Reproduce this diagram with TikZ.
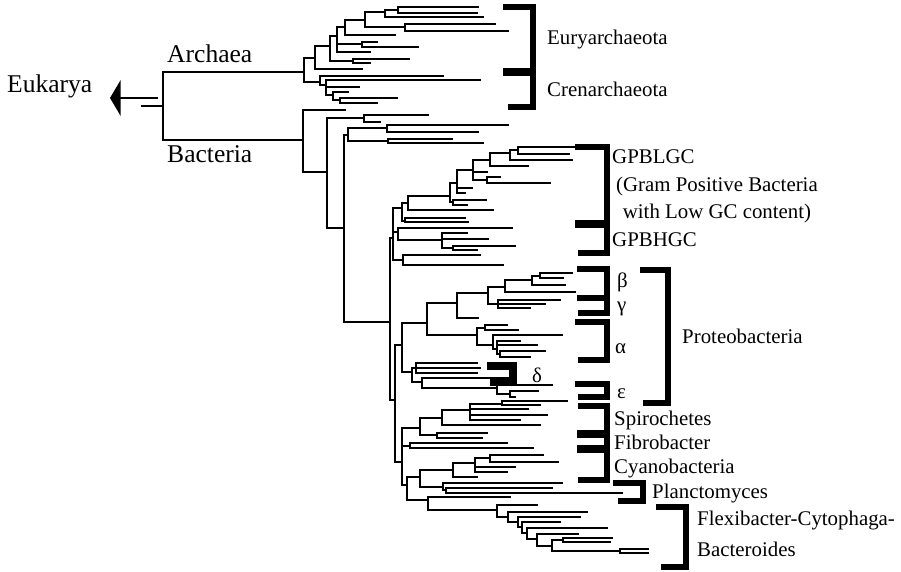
\documentclass[tikz,border=0pt]{standalone}
\usepackage{fontspec}
\setmainfont{Liberation Serif}
\usetikzlibrary{arrows.meta}

\newcommand{\limb}[2]{\draw[branch] (#1) |- (#2);}
\newcommand{\twig}[3]{\draw[branch] (#1) |- (#3,#2);}

\begin{document}
\begin{tikzpicture}[
        x=0.03cm, y=-0.03cm,
        branch/.style={
            line width=2.45pt,
            line cap=rect
        },
        bracket/.style={
            line width=4.8pt
        },
        divider/.style={
            line width=7pt
        },
        taxon/.style={
            anchor=base west,
            inner sep=0pt,
            font=\fontsize{17.8}{20}\selectfont
        },
        kingdom/.style={
            anchor=base west,
            inner sep=0pt,
            font=\fontsize{21.8}{24}\selectfont
        },
        eukarrow/.style={
            -{Triangle[length=9pt, width=30pt]},
            line width=2.45pt
        }
    ]
        \useasboundingbox (0,0) rectangle (901,572);

        \node (eukarya) [kingdom] at (7,93) {Eukarya};
        \node (archaea) [kingdom] at (167,63) {Archaea};
        \node (bacteria) [kingdom] at (167,163) {Bacteria};

        \coordinate (root) at (163,106);
        \coordinate (rootstub) at (142,106);
        \coordinate (eukstub) at (158,98);
        \coordinate (euktip) at (110,98);
        \coordinate (arch) at (304,72);
        \coordinate (bact) at (303,140);
        \draw [branch] (root) -- (rootstub);
        \draw [eukarrow] (eukstub) -- (euktip);
        \limb{root}{arch} \limb{root}{bact}

        \coordinate (eury) at (315,58);
        \coordinate (cren) at (320,82);
        \coordinate (e1) at (330,46);
        \coordinate (e2) at (337,36);
        \coordinate (e3) at (353,61);
        \coordinate (e4) at (345,27);
        \coordinate (e5) at (362,44);
        \coordinate (e6) at (365,20);
        \coordinate (e7) at (385,12);
        \coordinate (e8) at (405,27);
        \coordinate (e9) at (398,10);
        \limb{arch}{eury} \limb{arch}{cren}
        \limb{eury}{e1} \twig{eury}{69}{362}
        \limb{e1}{e2} \limb{e1}{e3}
        \limb{e2}{e4} \limb{e2}{e5} \twig{e2}{52}{370}
        \limb{e4}{e6} \twig{e4}{35}{395}
        \limb{e6}{e7} \limb{e6}{e8}
        \limb{e7}{e9} \twig{e7}{17}{483}
        \twig{e9}{7}{478} \twig{e9}{13}{477}
        \twig{e8}{24}{495} \twig{e8}{31}{508}
        \twig{e5}{42}{377} \twig{e5}{47}{418}
        \twig{e3}{59}{409} \twig{e3}{63}{370}

        \coordinate (c1) at (326,85);
        \coordinate (c2) at (333,95);
        \coordinate (c3) at (340,100);
        \twig{cren}{76}{443} \limb{cren}{c1}
        \twig{c1}{80}{480} \twig{c1}{87}{359} \limb{c1}{c2}
        \twig{c2}{92}{348} \limb{c2}{c3}
        \twig{c3}{98}{397} \twig{c3}{103}{377}

        \coordinate (b1) at (327,172);
        \coordinate (b2) at (364,118);
        \coordinate (b3) at (344,228);
        \coordinate (b4) at (348,135);
        \coordinate (b5) at (390,322);
        \coordinate (b6) at (387,128);
        \coordinate (b7) at (388,141);
        \twig{bact}{110}{345} \limb{bact}{b1}
        \limb{b1}{b2} \limb{b1}{b3}
        \twig{b2}{115}{428} \twig{b2}{122}{380}
        \limb{b3}{b4} \limb{b3}{b5}
        \limb{b4}{b6} \limb{b4}{b7}
        \twig{b6}{125}{508} \twig{b6}{132}{478}
        \twig{b7}{139}{452} \twig{b7}{143}{483}

        \coordinate (g0) at (393,238);
        \coordinate (g1) at (402,208);
        \coordinate (g2) at (398,232);
        \coordinate (g3) at (403,260);
        \coordinate (g4) at (408,203);
        \coordinate (g5) at (405,221);
        \coordinate (g6) at (450,196);
        \coordinate (g6a) at (453,202);
        \coordinate (g7) at (457,183);
        \coordinate (g8) at (473,170);
        \coordinate (g9) at (490,160);
        \coordinate (g10) at (487,180);
        \coordinate (g11) at (510,153);
        \coordinate (g12) at (518,150);
        \coordinate (g13) at (442,240);
        \coordinate (g14) at (453,248);
        \coordinate (p0) at (395,400);
        \limb{b5}{g0} \limb{b5}{p0}
        \limb{g0}{g1} \limb{g0}{g2} \limb{g0}{g3}
        \limb{g1}{g4} \limb{g1}{g5}
        \limb{g4}{g6} \twig{g4}{210}{493}
        \twig{g5}{218}{465} \twig{g5}{222}{468}
        \limb{g6}{g7} \limb{g6}{g6a}
        \twig{g6a}{200}{486} \twig{g6a}{205}{467}
        \limb{g7}{g8} \twig{g7}{188}{472} \twig{g7}{193}{465}
        \limb{g8}{g9} \twig{g8}{172}{487} \limb{g8}{g10}
        \twig{g10}{177}{500} \twig{g10}{183}{550}
        \limb{g9}{g11} \twig{g9}{166}{528}
        \limb{g11}{g12} \twig{g11}{160}{572}
        \twig{g12}{147}{575} \twig{g12}{154}{569}
        \twig{g2}{228}{512} \limb{g2}{g13}
        \twig{g13}{233}{467} \twig{g13}{239}{488} \limb{g13}{g14}
        \twig{g14}{246}{515} \twig{g14}{250}{477}
        \twig{g3}{255}{480} \twig{g3}{265}{503}

        \coordinate (pr) at (402,345);
        \coordinate (l0) at (402,462);
        \coordinate (pa) at (427,323);
        \coordinate (pd) at (412,372);
        \coordinate (pb) at (457,303);
        \coordinate (pal) at (477,335);
        \coordinate (pc) at (488,293);
        \coordinate (pc1) at (505,287);
        \coordinate (pc2) at (532,280);
        \coordinate (pc3) at (540,276);
        \coordinate (pg) at (498,304);
        \coordinate (na1) at (485,328);
        \coordinate (na2) at (493,345);
        \coordinate (na3) at (497,349);
        \coordinate (na4) at (500,354);
        \coordinate (pd1) at (416,368);
        \coordinate (pd2) at (422,382);
        \coordinate (pe) at (497,388);
        \coordinate (pe1) at (510,394);
        \limb{p0}{pr} \limb{p0}{l0}
        \limb{pr}{pa} \limb{pr}{pd}
        \limb{pa}{pb} \limb{pa}{pal}
        \limb{pb}{pc} \twig{pb}{318}{478}
        \limb{pc}{pc1} \limb{pc}{pg}
        \limb{pc1}{pc2} \twig{pc1}{292}{575}
        \limb{pc2}{pc3} \twig{pc2}{285}{565}
        \twig{pc3}{273}{572} \twig{pc3}{278}{563}
        \twig{pg}{300}{560} \twig{pg}{304}{545} \twig{pg}{308}{530}
        \limb{pal}{na1} \limb{pal}{na2}
        \twig{na1}{325}{507} \twig{na1}{330}{518}
        \twig{na2}{335}{562} \limb{na2}{na3}
        \twig{na3}{341}{520} \twig{na3}{345}{537} \limb{na3}{na4}
        \twig{na4}{351}{545} \twig{na4}{357}{530}
        \limb{pd}{pd1} \limb{pd}{pd2}
        \twig{pd1}{363}{477} \twig{pd1}{368}{480} \twig{pd1}{373}{477}
        \twig{pd2}{378}{515} \limb{pd2}{pe}
        \twig{pe}{385}{552} \limb{pe}{pe1}
        \twig{pe1}{391}{538} \twig{pe1}{397}{515}

        \coordinate (s0) at (420,428);
        \coordinate (s1) at (442,418);
        \coordinate (s2) at (437,435);
        \coordinate (s3) at (470,410);
        \coordinate (s4) at (502,404);
        \coordinate (f0) at (410,446);
        \coordinate (l2) at (407,485);
        \coordinate (cp) at (420,477);
        \coordinate (cy) at (453,470);
        \coordinate (cy1) at (475,463);
        \coordinate (cy2) at (490,458);
        \coordinate (pl) at (443,487);
        \coordinate (pl1) at (446,490);
        \coordinate (fc) at (428,500);
        \limb{l0}{s0} \limb{l0}{f0} \limb{l0}{l2}
        \limb{s0}{s1} \limb{s0}{s2}
        \limb{s1}{s3} \twig{s1}{425}{540}
        \limb{s3}{s4} \twig{s3}{409}{528} \twig{s3}{415}{547} \twig{s3}{420}{520}
        \twig{s4}{401}{567} \twig{s4}{405}{540}
        \twig{s2}{433}{487} \twig{s2}{438}{482}
        \twig{f0}{443}{507} \twig{f0}{448}{533}
        \limb{l2}{cp} \limb{l2}{fc}
        \limb{cp}{cy} \limb{cp}{pl}
        \limb{cy}{cy1} \twig{cy}{477}{477}
        \limb{cy1}{cy2} \twig{cy1}{467}{515} \twig{cy1}{472}{507}
        \twig{cy2}{455}{543} \twig{cy2}{462}{558}
        \twig{pl}{483}{562} \limb{pl}{pl1}
        \twig{pl1}{488}{552} \twig{pl1}{493}{622}

        \coordinate (fc1) at (497,510);
        \coordinate (fc2) at (508,517);
        \coordinate (fc3) at (518,522);
        \coordinate (fc4) at (522,527);
        \coordinate (fc5) at (527,533);
        \coordinate (fc6) at (537,539);
        \coordinate (fc7) at (552,546);
        \coordinate (fc8) at (563,540);
        \coordinate (fc9) at (620,551);
        \twig{fc}{497}{510} \limb{fc}{fc1}
        \twig{fc1}{505}{537} \limb{fc1}{fc2}
        \twig{fc2}{512}{587} \limb{fc2}{fc3}
        \twig{fc3}{517}{580} \limb{fc3}{fc4}
        \twig{fc4}{522}{560} \limb{fc4}{fc5}
        \twig{fc5}{528}{607} \limb{fc5}{fc6}
        \twig{fc6}{534}{578} \limb{fc6}{fc7}
        \limb{fc7}{fc8} \limb{fc7}{fc9}
        \twig{fc8}{538}{612} \twig{fc8}{542}{610}
        \twig{fc9}{549}{648} \twig{fc9}{553}{648}

        \draw [bracket] (503,7) -| (533,107) -- (508,107);
        \draw [divider] (503,72) -- (533,72);
        \draw [bracket] (575,147) -| (607,253) -- (578,253);
        \draw [divider] (575,224) -- (607,224);
        \draw [bracket] (577,269) -| (607,313) -- (578,313);
        \draw [bracket] (577,298) -- (607,298);
        \draw [bracket] (575,322) -| (607,360) -- (578,360);
        \draw [divider] (487,366) -| (513,382) -- (490,382);
        \draw [bracket] (575,384) -| (607,397) -- (578,397);
        \draw [bracket] (578,406) -| (607,480) -- (578,480);
        \draw [divider] (577,434) -- (607,434);
        \draw [divider] (577,449) -- (607,449);
        \draw [bracket] (640,270) -| (668,403) -- (643,403);
        \draw [bracket] (613,483) -| (643,501) -- (618,501);
        \draw [bracket] (656,507) -| (686,567) -- (661,567);

        \node (euryl) [taxon] at (547,45) {Euryarchaeota};
        \node (crenl) [taxon] at (547,97) {Crenarchaeota};
        \node (gpblgc) [taxon] at (612,164) {GPBLGC};
        \node (gram) [taxon, anchor=base] at (717,192) {(Gram Positive Bacteria};
        \node (lowgc) [taxon, anchor=base] at (717,219) {with Low GC content)};
        \node (gpbhgc) [taxon] at (612,247) {GPBHGC};
        \node (beta) [taxon] at (617,288) {β};
        \node (gamma) [taxon] at (617,311) {γ};
        \node (alpha) [taxon] at (615,353) {α};
        \node (delta) [taxon] at (532,382) {δ};
        \node (eps) [taxon] at (617,398) {ε};
        \node (proteo) [taxon] at (682,343) {Proteobacteria};
        \node (spiro) [taxon] at (614,425) {Spirochetes};
        \node (fibro) [taxon] at (614,449) {Fibrobacter};
        \node (cyano) [taxon] at (614,473) {Cyanobacteria};
        \node (plancto) [taxon] at (652,498) {Planctomyces};
        \node (flexi) [taxon] at (697,525) {Flexibacter-Cytophaga-};
        \node (bactero) [taxon] at (697,556) {Bacteroides};
    \end{tikzpicture}
\end{document}
